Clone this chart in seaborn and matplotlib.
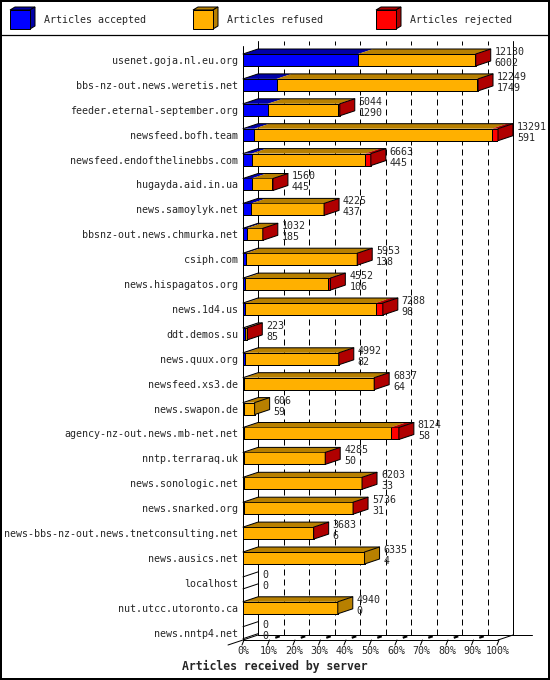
import numpy as np
import pandas as pd
import matplotlib
matplotlib.use("Agg")
import matplotlib.pyplot as plt
from matplotlib.patches import Polygon, Rectangle
import seaborn as sns

# innreport style chart: articles received by server
servers = [
    "usenet.goja.nl.eu.org", "bbs-nz-out.news.weretis.net", "feeder.eternal-september.org",
    "newsfeed.bofh.team", "newsfeed.endofthelinebbs.com", "hugayda.aid.in.ua",
    "news.samoylyk.net", "bbsnz-out.news.chmurka.net", "csiph.com", "news.hispagatos.org",
    "news.1d4.us", "ddt.demos.su", "news.quux.org", "newsfeed.xs3.de", "news.swapon.de",
    "agency-nz-out.news.mb-net.net", "nntp.terraraq.uk", "news.sonologic.net",
    "news.snarked.org", "news-bbs-nz-out.news.tnetconsulting.net", "news.ausics.net",
    "localhost", "nut.utcc.utoronto.ca", "news.nntp4.net",
]
total = [12130, 12249, 5044, 13291, 6663, 1560, 4225, 1032, 5953, 4552, 7288, 223,
         4992, 6837, 606, 8124, 4285, 6203, 5736, 3683, 6335, 0, 4940, 0]
accepted = [6002, 1749, 1290, 591, 445, 445, 437, 185, 138, 106, 98, 85,
            82, 64, 59, 58, 50, 33, 31, 6, 4, 0, 0, 0]
refused = [6068, 10460, 3684, 12380, 5918, 1090, 3768, 832, 5805, 4346, 6820, 118,
           4900, 6763, 547, 7636, 4220, 6160, 5685, 3667, 6331, 0, 4940, 0]
rejected = [60, 40, 70, 320, 300, 25, 20, 15, 10, 100, 370, 20,
            10, 10, 0, 430, 15, 10, 20, 10, 0, 0, 0, 0]

tick_labels = ["0%", "10%", "20%", "30%", "40%", "50%", "60%", "70%", "80%", "90%", "100%"]

BLUE, BLUE_D = "#0000FF", "#0000A8"
ORANGE, ORANGE_D = "#FFB000", "#B88000"
RED, RED_D = "#FF0000", "#B00000"

df = pd.DataFrame({"server": servers, "total": total, "accepted": accepted,
                   "refused": refused, "rejected": rejected})
df["acc_ref"] = df["accepted"] + df["refused"]

sns.set_theme(style="white")
plt.rcParams["font.family"] = ["DejaVu Sans Mono", "DejaVu Sans"]
plt.rcParams["font.size"] = 7.2

W, H = 550, 680
fig = plt.figure(figsize=(W / 100, H / 100), dpi=100)
fig.patch.set_facecolor("white")

# decoration layer in pixel coordinates (frame + legend)
deco = fig.add_axes([0, 0, 1, 1])
deco.set_xlim(0, W)
deco.set_ylim(H, 0)
deco.axis("off")
deco.add_patch(Rectangle((1, 1), W - 2, H - 2, fill=False, lw=1.44, ec="black"))
deco.plot([0, W], [35, 35], color="black", lw=0.9)
for x0, name, c, cd in [(10, "Articles accepted", BLUE, BLUE_D),
                         (193, "Articles refused", ORANGE, ORANGE_D),
                         (376, "Articles rejected", RED, RED_D)]:
    deco.add_patch(Polygon([(x0, 10), (x0 + 5, 7), (x0 + 25, 7), (x0 + 20, 10)],
                           fc=cd, ec="black", lw=0.72))
    deco.add_patch(Polygon([(x0 + 20, 10), (x0 + 25, 7), (x0 + 25, 26), (x0 + 20, 29)],
                           fc=cd, ec="black", lw=0.72))
    deco.add_patch(Rectangle((x0, 10), 20, 19, fc=c, ec="black", lw=0.72))
    deco.text(x0 + 34, 20, name, va="center", ha="left", fontsize=7.2)

fig.text(0.5, 1 - 666 / H, "Articles received by server", ha="center", va="center",
         fontsize=8.3, fontweight="bold")

# main chart
ax = fig.add_axes([243 / W, (H - 640) / H, 255 / W, 594 / H])
ax.patch.set_alpha(0)
XMAX = df["total"].max()
PXX = XMAX / 255.0
ROW = 24.9
PXY = 1.0 / ROW
DX, DY, HH = 15 * PXX, 5 * PXY, 6 * PXY
ybot = (640 - 60) / ROW
ytop = (46 - 60) / ROW

# front faces: cumulative overlays
bar_h = 2 * HH
for col, c in [("total", RED), ("acc_ref", ORANGE), ("accepted", BLUE)]:
    sns.barplot(data=df, x=col, y="server", order=servers, orient="y", color=c,
                saturation=1, width=bar_h, edgecolor="black", linewidth=0.72,
                errorbar=None, ax=ax, zorder=2)

# back wall and grid
lw = 0.72
for k in range(11):
    xb = k * XMAX / 10 + DX
    ls = "-" if k in (0, 10) else (0, (6, 4))
    ax.plot([xb, xb], [ybot - DY, ytop - DY], color="black", lw=lw, ls=ls,
            clip_on=False, zorder=0.5)
ax.plot([0, 0], [ybot, ytop], color="black", lw=lw, clip_on=False, zorder=4)
# floor
ax.plot([0, XMAX], [ybot, ybot], color="black", lw=lw, clip_on=False)
ax.plot([DX, XMAX + DX + 19 * PXX], [ybot - DY, ybot - DY], color="black", lw=lw, clip_on=False)
ax.plot([-DX, DX], [ybot + DY, ybot - DY], color="black", lw=lw, clip_on=False)
ax.plot([XMAX, XMAX + DX], [ybot, ybot - DY], color="black", lw=lw, clip_on=False)
for k in range(11):
    xf = k * XMAX / 10
    ax.plot([xf + PXX, xf - PXX], [ybot, ybot + 5 * PXY], color="black", lw=lw, clip_on=False)
    if 0 < k < 10:
        ax.plot([xf + 0.45 * DX, xf + 0.75 * DX], [ybot - 0.45 * DY, ybot - 0.75 * DY],
                color="black", lw=1.6, clip_on=False, solid_capstyle="butt")

# 3D tops, sides and value labels
for i, row in df.iterrows():
    top, bot = i - HH, i + HH
    segs = [(row["accepted"], BLUE_D), (row["refused"], ORANGE_D), (row["rejected"], RED_D)]
    x0 = 0
    last = None
    for v, cd in segs:
        if v > 0:
            ax.add_patch(Polygon([(x0, top), (x0 + DX, top - DY), (x0 + v + DX, top - DY), (x0 + v, top)],
                                 fc=cd, ec="none", zorder=2, clip_on=False))
            last = cd
        x0 += v
    T = row["total"]
    if T > 0:
        ax.add_patch(Polygon([(T, top), (T + DX, top - DY), (T + DX, bot - DY), (T, bot)],
                             fc=last, ec="black", lw=lw, zorder=3, clip_on=False))
        ax.plot([0, DX, T + DX], [top, top - DY, top - DY], color="black", lw=lw,
                zorder=3, clip_on=False)
    else:
        ax.plot([0, DX], [top, top - DY], color="black", lw=lw, zorder=3, clip_on=False)
        ax.plot([0, DX], [bot, bot - DY], color="black", lw=lw, zorder=3, clip_on=False)
    xt = T + DX + 4 * PXX
    ax.text(xt, i - 5 * PXY, f"{T}", va="baseline", ha="left", fontsize=7.2, clip_on=False)
    ax.text(xt, i + 6 * PXY, f"{row['accepted']}", va="baseline", ha="left", fontsize=7.2,
            clip_on=False)

ax.set_xlim(0, XMAX)
ax.set_ylim(ybot, ytop)
ax.set_xticks([k * XMAX / 10 for k in range(11)], tick_labels)
ax.set_yticks(range(len(servers)), servers)
ax.tick_params(axis="x", length=0, pad=4.5, labelsize=7.2)
ax.tick_params(axis="y", length=0, pad=3.6, labelsize=7.2)
ax.set_xlabel("")
ax.set_ylabel("")
for s in ax.spines.values():
    s.set_visible(False)

fig.savefig("out.png", dpi=100, facecolor="white")
